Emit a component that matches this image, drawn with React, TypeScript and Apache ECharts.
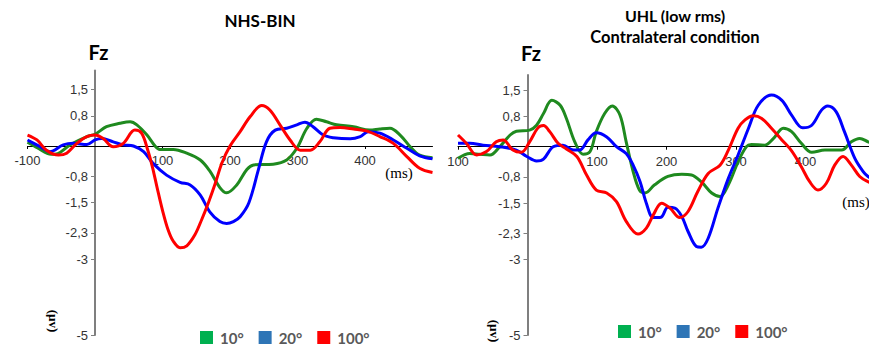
import React, { useEffect, useRef } from "react";
import * as echarts from "echarts";

const xTicks = [-100, 100, 200, 300, 400];
const yTicks = [1.5, 0.8, -0.8, -1.5, -2.3, -3, -5];
const legendNames = ["10°", "20°", "100°"];
const legendColors = ["#00b050", "#2e75b6", "#ff0000"];
const lineColors = ["#1f8a1f", "#0000ff", "#ff0000"];

// NHS-BIN panel (ms, µV)
const nhsGreen = [
  [-100, 0.1], [-85, -0.05], [-65, -0.22], [-55, -0.2], [-37, 0.03], [-12, 0.25], [0, 0.31],
  [17, 0.51], [37, 0.6], [52, 0.64], [62, 0.56], [77, 0.29], [89, 0.0], [96, -0.09], [116, -0.09],
  [136, -0.19], [156, -0.37], [170, -0.66], [185, -1.1], [195, -1.24], [210, -1.03], [225, -0.62],
  [235, -0.5], [264, -0.48], [284, -0.37], [299, -0.06], [314, 0.47], [328, 0.71], [343, 0.64],
  [358, 0.56], [383, 0.51], [407, 0.42], [422, 0.45], [437, 0.47], [452, 0.29], [467, -0.02],
  [481, -0.24], [500, -0.31],
];
const nhsBlue = [
  [-100, 0.16], [-81, -0.02], [-67, -0.15], [-47, 0.03], [-32, 0.07], [-12, 0.04], [0, 0.16],
  [10, 0.2], [27, 0.11], [42, 0.03], [57, 0.0], [72, -0.15], [86, -0.46], [106, -0.77], [126, -0.96],
  [141, -1.03], [156, -1.3], [170, -1.74], [185, -2.0], [195, -2.05], [205, -2.0], [215, -1.87],
  [228, -1.5], [242, -0.63], [254, 0.11], [267, 0.42], [284, 0.47], [299, 0.56], [311, 0.63],
  [323, 0.51], [338, 0.29], [353, 0.22], [378, 0.19], [393, 0.25], [405, 0.38], [422, 0.34],
  [442, 0.16], [462, -0.06], [481, -0.26], [500, -0.34],
];
const nhsRed = [
  [-100, 0.29], [-86, 0.16], [-72, -0.11], [-54, -0.24], [-42, -0.19], [-27, 0.07], [-12, 0.25],
  [0, 0.29], [12, 0.2], [27, -0.02], [42, 0.07], [59, 0.42], [69, 0.34], [78, -0.1], [85, -0.55],
  [92, -1.1], [100, -1.7], [108, -2.2], [116, -2.52], [126, -2.69], [136, -2.64], [148, -2.35],
  [158, -1.95], [168, -1.5], [178, -1.0], [188, -0.45], [200, 0.0], [215, 0.38], [230, 0.78],
  [247, 1.07], [259, 0.95], [274, 0.56], [289, 0.16], [304, -0.11], [319, -0.11], [333, 0.11],
  [348, 0.47], [363, 0.49], [383, 0.45], [402, 0.4], [422, 0.25], [442, 0.07], [462, -0.28],
  [481, -0.59], [500, -0.7],
];

// UHL (low rms) contralateral panel (ms, µV)
const uhlGreen = [
  [-100, -0.31], [-83, -0.18], [-69, -0.2], [-54, -0.22], [-40, 0.0], [-25, 0.31], [-16, 0.41],
  [3, 0.44], [13, 0.57], [23, 0.88], [35, 1.23], [47, 1.1], [56, 0.75], [68, 0.13], [80, -0.2],
  [90, -0.13], [99, 0.4], [111, 0.88], [122, 1.08], [133, 0.84], [142, 0.13], [152, -0.66],
  [161, -1.15], [169, -1.23], [183, -1.01], [202, -0.79], [222, -0.73], [236, -0.75], [250, -0.93],
  [265, -1.23], [277, -1.32], [289, -1.01], [303, -0.4], [315, 0.0], [322, 0.06], [341, 0.04],
  [354, 0.22], [368, 0.49], [380, 0.4], [394, 0.09], [409, -0.15], [428, -0.09], [452, -0.09],
  [466, 0.13], [478, 0.22], [490, 0.13], [500, 0.05],
];
const uhlBlue = [
  [-100, 0.09], [-83, 0.09], [-64, 0.04], [-40, 0.0], [-16, -0.09], [-1, -0.26], [13, -0.38],
  [23, -0.33], [37, 0.0], [51, 0.04], [66, -0.09], [75, -0.09], [87, 0.18], [99, 0.37], [114, 0.26],
  [128, 0.0], [142, -0.18], [152, -0.49], [162, -0.93], [171, -1.5], [181, -1.88], [192, -1.87],
  [202, -1.61], [212, -1.63], [222, -1.85], [231, -2.25], [243, -2.65], [250, -2.67], [260, -2.43],
  [274, -1.63], [289, -0.84], [303, -0.22], [318, 0.49], [332, 1.1], [351, 1.37], [366, 1.23],
  [380, 0.84], [396, 0.5], [409, 0.57], [423, 0.97], [432, 1.08], [444, 0.93], [456, 0.4],
  [471, -0.31], [483, -0.66], [490, -0.79], [500, -0.9],
];
const uhlRed = [
  [-100, 0.31], [-88, 0.09], [-73, -0.22], [-59, -0.13], [-45, 0.13], [-35, 0.18], [-21, -0.09],
  [-9, -0.15], [3, 0.13], [15, 0.5], [23, 0.56], [32, 0.4], [44, 0.09], [56, -0.06], [71, -0.26],
  [85, -0.75], [99, -1.15], [114, -1.23], [128, -1.46], [142, -1.98], [159, -2.32], [171, -2.16],
  [181, -1.81], [193, -1.5], [205, -1.63], [219, -1.88], [231, -1.72], [245, -1.19], [260, -0.71],
  [277, -0.49], [289, -0.09], [303, 0.49], [313, 0.71], [325, 0.82], [337, 0.75], [351, 0.49],
  [366, 0.18], [380, -0.11], [394, -0.53], [406, -0.93], [418, -1.15], [430, -0.97], [442, -0.49],
  [454, -0.26], [466, -0.49], [478, -0.79], [490, -0.93], [500, -1.0],
];

const tickFont = { color: "#333", fontSize: 13, fontFamily: "Liberation Sans" };

function makeXAxis(gridIndex: number, hideMinus: boolean, offset: number) {
  return {
    type: "value",
    gridIndex,
    position: "bottom",
    offset,
    min: -100,
    max: 500,
    axisLine: { show: true, onZero: false, lineStyle: { color: "#000", width: 1 } },
    axisTick: { show: true, customValues: xTicks, length: 3, lineStyle: { color: "#000" } },
    axisLabel: {
      ...tickFont,
      customValues: xTicks,
      margin: 8,
      formatter: (v: number) => (hideMinus && v < 0 ? String(-v) : String(v)),
    },
    splitLine: { show: false },
  };
}

function makeYAxis(gridIndex: number, max: number, offset: number) {
  return {
    type: "value",
    gridIndex,
    position: "left",
    offset,
    min: -5,
    max,
    axisLine: { show: true, onZero: false, lineStyle: { color: "#7f7f7f", width: 2 } },
    axisTick: { show: true, customValues: yTicks, length: 4, lineStyle: { color: "#7f7f7f" } },
    axisLabel: {
      ...tickFont,
      customValues: yTicks,
      margin: 7,
      formatter: (v: number) => String(v).replace(".", ","),
    },
    splitLine: { show: false },
  };
}

function makeSeries(data: number[][], idx: number, axis: number) {
  return {
    type: "line",
    name: legendNames[idx],
    xAxisIndex: axis,
    yAxisIndex: axis,
    data,
    smooth: 0.35,
    showSymbol: false,
    symbol: "none",
    lineStyle: { width: 3, color: lineColors[idx] },
    itemStyle: { color: lineColors[idx] },
    silent: true,
    z: 3,
  };
}

function makeLegend(left: number, top: number) {
  return {
    left,
    top,
    orient: "horizontal",
    icon: "rect",
    itemWidth: 13,
    itemHeight: 13,
    itemGap: 15,
    padding: 0,
    selectedMode: false,
    data: legendNames.map((n, i) => ({ name: n, itemStyle: { color: legendColors[i] } })),
    textStyle: {
      fontFamily: "Lato",
      fontWeight: "bold",
      fontSize: 15,
      color: "#595959",
      padding: [0, 0, 0, 2],
    },
  };
}

function txt(x: number, y: number, text: string, style: any, rotation = 0) {
  return {
    type: "text",
    x,
    y,
    rotation,
    style: { text, align: "center", verticalAlign: "middle", fill: "#000", ...style },
  };
}

export default function App() {
  const ref = useRef<HTMLDivElement>(null);
  useEffect(() => {
    if (!ref.current) return;
    const chart = echarts.init(ref.current, undefined, { renderer: "svg" });
    const titleStyle = { fontFamily: "Lato", fontWeight: "bold", fontSize: 17 };
    const subStyle = { fontFamily: "Lato", fontWeight: "bold", fontSize: 16.5 };
    const uhlStyle = { fontFamily: "Lato", fontWeight: "bold", fontSize: 16 };
    const fzStyle = { fontFamily: "Lato", fontWeight: "bold", fontSize: 20 };
    const msStyle = { fontFamily: "Liberation Serif", fontSize: 15 };
    const uvStyle = { fontFamily: "Liberation Serif", fontWeight: "bold", fontSize: 13 };
    chart.setOption({
      animation: false,
      backgroundColor: "#ffffff",
      grid: [
        { left: 27.5, top: 70.4, width: 405, height: 264.6, outerBoundsMode: "none", containLabel: false },
        { left: 458, top: 75.1, width: 417, height: 260, outerBoundsMode: "none", containLabel: false },
      ],
      xAxis: [makeXAxis(0, false, -189), makeXAxis(1, true, -188.4)],
      yAxis: [makeYAxis(0, 2.0, -67.5), makeYAxis(1, 1.9, -69.5)],
      legend: [makeLegend(200, 330), makeLegend(618, 324)],
      series: [
        makeSeries(nhsGreen, 0, 0),
        makeSeries(nhsBlue, 1, 0),
        makeSeries(nhsRed, 2, 0),
        makeSeries(uhlGreen, 0, 1),
        makeSeries(uhlBlue, 1, 1),
        makeSeries(uhlRed, 2, 1),
      ],
      graphic: [
        txt(260, 20, "NHS-BIN", titleStyle),
        txt(98.5, 52, "Fz", fzStyle),
        txt(399, 173, "(ms)", msStyle),
        txt(53, 321, "(µv)", uvStyle, -Math.PI / 2),
        txt(675, 15, "UHL (low rms)", uhlStyle),
        txt(675, 37, "Contralateral condition", subStyle),
        txt(531, 53, "Fz", fzStyle),
        txt(856, 202, "(ms)", msStyle),
        txt(494, 331, "(µv)", uvStyle, -Math.PI / 2),
      ],
    });
    return () => chart.dispose();
  }, []);
  return (
    <div
      ref={ref}
      style={{ position: "fixed", left: 0, top: 0, width: 869, height: 347, background: "#fff" }}
    />
  );
}
